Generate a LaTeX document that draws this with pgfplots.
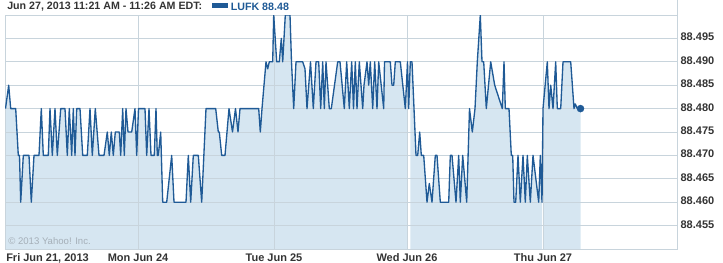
\documentclass[border=0pt]{standalone}
\usepackage{fontspec}
\setmainfont{Liberation Sans}
\usepackage{pgfplots}
\pgfplotsset{compat=1.18}
\usepackage{pgfplotstable}
\definecolor{linec}{HTML}{1F5A96}
\definecolor{fillc}{HTML}{D6E6F1}
\definecolor{gridc}{HTML}{C8D4DC}
\definecolor{txtc}{HTML}{333333}
\definecolor{copyc}{HTML}{A5AFB8}
\pgfplotstableread{
x y
5.5 88.48
8.7 88.485
10.7 88.48
15.7 88.48
18.3 88.47
19.5 88.47
20.7 88.46
23.3 88.47
29 88.47
31.3 88.46
34 88.47
39 88.47
41.3 88.48
43.3 88.47
48.3 88.47
50 88.48
52.3 88.47
55 88.48
57.3 88.47
60.7 88.48
65 88.48
67.3 88.47
69.3 88.48
71.7 88.47
73.3 88.48
75 88.47
76.7 88.48
80 88.48
82.7 88.47
87.3 88.47
90 88.48
92.3 88.47
95.3 88.48
99 88.47
104 88.47
107.3 88.475
109.3 88.47
111.3 88.475
113.3 88.47
115.3 88.475
119.3 88.475
120.7 88.47
122.7 88.48
124.3 88.47
126 88.48
128 88.475
131.7 88.475
135 88.48
136.7 88.47
138.5 88.48
141.7 88.48
145 88.48
146.7 88.47
149 88.48
151 88.47
154.3 88.47
156 88.48
157.3 88.47
158.3 88.47
160.7 88.475
162.7 88.46
166.7 88.46
171.7 88.47
174 88.46
178 88.46
186 88.46
188.3 88.47
190.7 88.46
193.3 88.47
198.3 88.47
201.7 88.46
206 88.48
215.7 88.48
218.3 88.475
219.3 88.475
221.7 88.47
225 88.47
229 88.48
232.5 88.475
235.5 88.48
238 88.475
240 88.48
258.7 88.48
260.3 88.475
262 88.48
266 88.49
267.7 88.4885
269.3 88.49
272.7 88.49
273.7 88.50
276.7 88.49
279.3 88.49
281.3 88.495
282.7 88.49
285.3 88.50
290 88.50
291.5 88.49
293.7 88.48
296 88.49
302.7 88.49
305 88.4885
307 88.48
310.5 88.49
313.3 88.48
316 88.49
318.7 88.49
320.7 88.48
322.7 88.49
324.3 88.48
326 88.49
329.3 88.48
331.3 88.48
337.7 88.49
340 88.49
344.3 88.48
346.7 88.49
349.3 88.48
351.7 88.49
353.5 88.48
355.3 88.49
357 88.48
359.3 88.49
362.7 88.48
364 88.485
367 88.49
368.7 88.485
370.3 88.49
372.7 88.48
374.7 88.49
377 88.48
378.7 88.49
383.7 88.48
384.5 88.49
390.3 88.49
392 88.485
393.7 88.485
395.3 88.49
400.3 88.49
405.3 88.48
407.5 88.49
408.7 88.48
410.3 88.49
412 88.49
416 88.47
417.7 88.47
419.7 88.475
421.3 88.47
423.7 88.47
427 88.46
429.3 88.464
432 88.46
435.3 88.47
437 88.47
440.3 88.46
448.7 88.46
450.3 88.47
452 88.47
456 88.46
458.7 88.47
460.3 88.46
462.7 88.47
466.7 88.46
469.5 88.48
472.3 88.475
475 88.48
477.3 88.49
480.3 88.50
482 88.49
483.7 88.49
486.3 88.48
490.7 88.49
494.7 88.485
502.3 88.48
504 88.49
505.3 88.48
509 88.48
511.3 88.47
512.7 88.47
514 88.46
515.7 88.46
518 88.47
520.3 88.46
523 88.47
525.3 88.46
527.3 88.47
530.3 88.46
533 88.47
538.7 88.46
540.3 88.47
542 88.46
543 88.48
547.3 88.49
549 88.48
550.7 88.485
553 88.48
555.7 88.49
557.3 88.48
560.7 88.48
563 88.49
570.7 88.49
574 88.48
575.3 88.481
577.3 88.48
580.5 88.48
}\lufk
\newcommand{\lblfont}{\bfseries\fontsize{8.25}{10}\selectfont}
\begin{document}
\begin{tikzpicture}
\begin{axis}[
  set layers,
  at={(0pt,0pt)}, anchor=south west,
  scale only axis, width=504pt, height=175.5pt,
  xmin=5, xmax=677, ymin=88.45, ymax=88.50,
  xtick={138,274,407,543},
  xticklabels={Mon Jun 24,Tue Jun 25,Wed Jun 26,Thu Jun 27},
  ytick={88.455,88.46,88.465,88.47,88.475,88.48,88.485,88.49,88.495},
  yticklabel pos=right,
  /pgf/number format/assume math mode=true,
  yticklabel style={/pgf/number format/fixed, /pgf/number format/fixed zerofill,
    /pgf/number format/precision=3, font=\lblfont, text=txtc, anchor=west,
    inner sep=0pt, xshift=2.5pt, yshift=1pt},
  xticklabel style={font=\lblfont, text=txtc, anchor=base, inner sep=0pt, yshift=-9.4pt},
  major tick length=0pt, tick style={draw=none},
  grid=major, major grid style={gridc, line width=0.75pt},
  axis line style={gridc, line width=0.75pt},
]
\addplot[fill=fillc, draw=none, on layer=axis background, restrict x to domain=5:408]
  table[x=x,y=y]{\lufk} -- (axis cs:407.5,88.45) -- (axis cs:5.5,88.45) -- cycle;
\addplot[fill=fillc, draw=none, on layer=axis background, restrict x to domain=410:542.5]
  table[x=x,y=y]{\lufk} -- (axis cs:542,88.45) -- (axis cs:410.3,88.45) -- cycle;
\addplot[fill=fillc, draw=none, on layer=axis background, restrict x to domain=542.8:590]
  table[x=x,y=y]{\lufk} -- (axis cs:580.5,88.45) -- (axis cs:543,88.45) -- cycle;
\addplot[linec, line width=1pt, line join=round] table[x=x,y=y]{\lufk};
\addplot[only marks, mark=*, mark size=2.6pt, mark options={fill=linec, draw=linec}]
  coordinates {(580.5,88.48)};
\end{axis}
\draw[gridc, line width=0.75pt] (504pt,175.5pt) -- (504pt,186.75pt);
\node[anchor=base west, inner sep=0pt, font=\lblfont, text=txtc] at (0.75pt,-9.4pt) {Fri Jun 21, 2013};
\node[anchor=base west, inner sep=0pt, font=\fontsize{7.2}{8}\selectfont, text=copyc] at (2.25pt,3.75pt) {\textcopyright{} 2013 Yahoo! Inc.};
\node[anchor=west, inner sep=0pt, font=\bfseries\fontsize{8}{10}\selectfont, text=txtc] (t) at (1.5pt,181.7pt) {Jun 27, 2013 11:21 AM - 11:26 AM EDT:};
\fill[linec] (t.east) ++(6.75pt,-0.6pt) rectangle ++(12pt,3.5pt);
\node[anchor=west, inner sep=0pt, font=\bfseries\fontsize{8}{10}\selectfont, text=linec, xshift=21pt] at (t.east) {LUFK 88.48};
\pgfresetboundingbox
\useasboundingbox (-3.75pt,-9.75pt) rectangle (538.5pt,186.75pt);
\end{tikzpicture}
\end{document}
